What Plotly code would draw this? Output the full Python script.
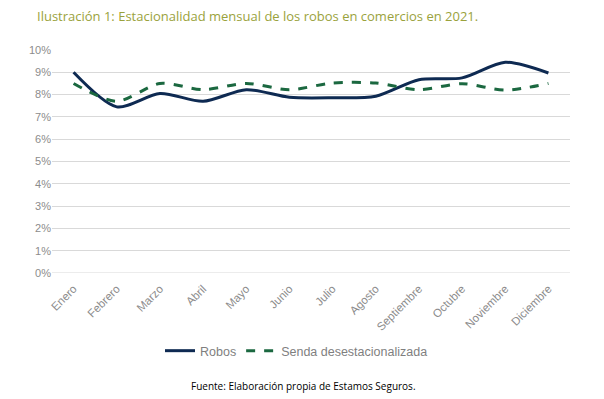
import plotly.graph_objects as go

meses = ["Enero", "Febrero", "Marzo", "Abril", "Mayo", "Junio", "Julio",
         "Agosto", "Septiembre", "Octubre", "Noviembre", "Diciembre"]
robos = [9.0, 7.45, 8.05, 7.7, 8.22, 7.88, 7.86, 7.93, 8.67, 8.75, 9.45, 8.97]
senda = [8.5, 7.7, 8.5, 8.22, 8.5, 8.22, 8.52, 8.52, 8.22, 8.49, 8.2, 8.5]
y_ticks = list(range(0, 11))
y_labels = [f"{v}%" for v in y_ticks]

W, H = 596, 391  # page body adds an 8px offset

fig = go.Figure()
fig.add_trace(go.Scatter(x=meses, y=robos, name="Robos", mode="lines",
                         line=dict(color="#0e2a52", width=3, shape="spline", smoothing=0.8)))
fig.add_trace(go.Scatter(x=meses, y=senda, name="Senda desestacionalizada", mode="lines",
                         line=dict(color="#1b6840", width=3, dash="dash", shape="spline", smoothing=0.8)))

fig.update_layout(
    width=W, height=H,
    margin=dict(l=44, r=34, t=42, b=126),
    paper_bgcolor="white", plot_bgcolor="white",
    title=dict(text="Ilustración 1: Estacionalidad mensual de los robos en comercios en 2021.",
               x=29/W, xanchor="left", y=1-8/H, yanchor="middle",
               font=dict(family="Open Sans", size=13, color="#9aa23c")),
    showlegend=True,
    legend=dict(orientation="h", x=0.472, xanchor="center", y=-0.35, yanchor="middle",
                font=dict(family="Liberation Sans, Arial", size=12.5, color="#7f7f7f"),
                itemwidth=30),
    xaxis=dict(range=[-0.5, 11.5], tickangle=-45, showgrid=False, showline=False,
               tickfont=dict(family="Liberation Sans, Arial", size=11.5, color="#8c8c8c"),
               ticks="", ticklabelstandoff=6),
    yaxis=dict(range=[0, 10], tickmode="array", tickvals=y_ticks, ticktext=y_labels,
               showgrid=True, gridcolor="#d9d9d9", gridwidth=1, zeroline=False, showline=False,
               tickfont=dict(family="Liberation Sans, Arial", size=11, color="#8c8c8c"),
               ticks=""),
)
fig.add_annotation(text="Fuente: Elaboración propia de Estamos Seguros.",
                   xref="paper", yref="paper", x=0.486, y=-0.507,
                   xanchor="center", yanchor="middle", showarrow=False,
                   font=dict(family="Open Sans", size=10, color="#000000"))
fig.add_shape(type="line", xref="paper", yref="y", x0=0, x1=1, y0=0, y1=0,
              line=dict(color="#d9d9d9", width=1), layer="below")

fig.write_html("out.html")
